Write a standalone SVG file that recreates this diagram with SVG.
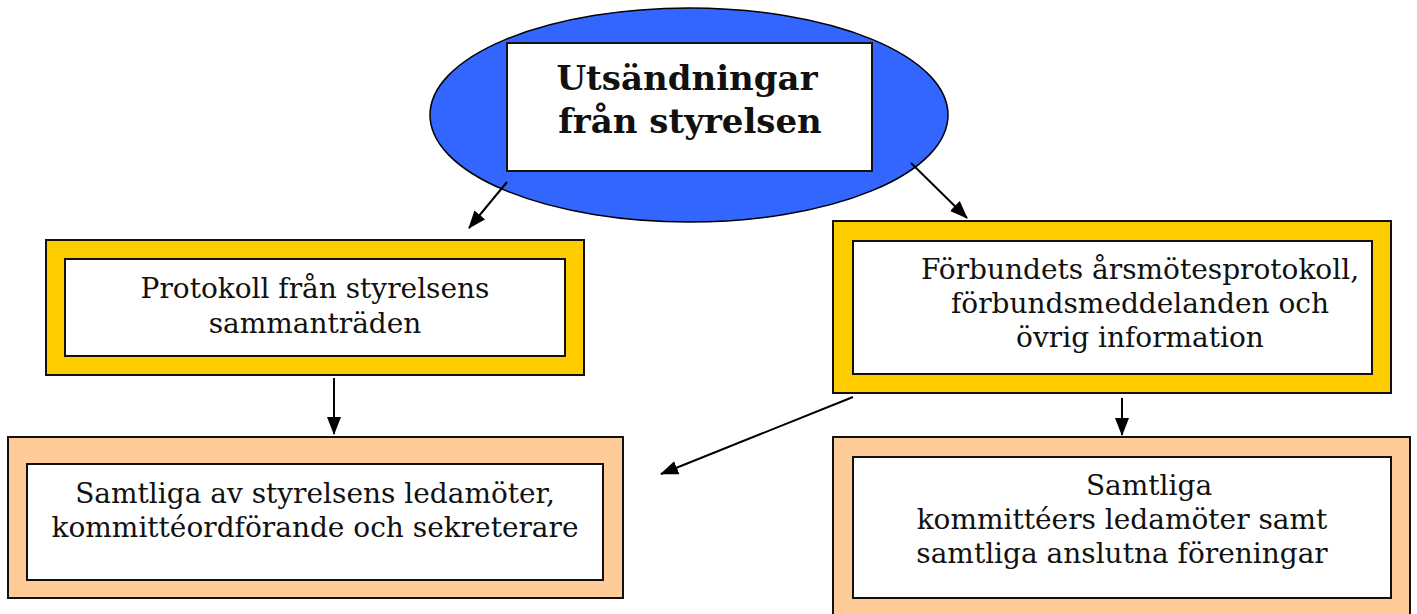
<svg xmlns="http://www.w3.org/2000/svg" width="1417" height="614" viewBox="0 0 1417 614">
<defs>
<marker id="ah" markerWidth="18" markerHeight="14" refX="17" refY="7" orient="auto" markerUnits="userSpaceOnUse">
<path d="M0,0 L18,7 L0,14 Z" fill="#000"/>
</marker>
<style>
.frame{stroke:#111;stroke-width:2}
.inner{fill:#fff;stroke:#111;stroke-width:2}
.yel{fill:#FFCC00}
.org{fill:#FFCC99}
.t{font-family:"DejaVu Serif","Liberation Serif",serif;font-size:28px;fill:#111}
.title{font-family:"DejaVu Serif","Liberation Serif",serif;font-size:34px;font-weight:bold;fill:#111;text-anchor:middle}
.c{text-anchor:middle}
.conn line{stroke:#000;stroke-width:2;marker-end:url(#ah)}
</style>
</defs>
<rect width="1417" height="614" fill="#fff"/>
<g id="n-top">
<ellipse cx="689" cy="115" rx="259" ry="107" fill="#3366FF" stroke="#000" stroke-width="1.5"/>
<rect class="inner" x="507" y="43" width="365" height="128"/>
<text class="title" x="687" y="90">Utsändningar</text>
<text class="title" x="690" y="133">från styrelsen</text>
</g>
<g id="n-protokoll">
<rect class="frame yel" x="46" y="240" width="538" height="135"/>
<rect class="inner" x="65" y="259" width="500" height="97"/>
<text class="t c" x="315" y="298">Protokoll från styrelsens</text>
<text class="t c" x="315" y="333">sammanträden</text>
</g>
<g id="n-forbund">
<rect class="frame yel" x="833" y="221" width="558" height="172"/>
<rect class="inner" x="853" y="241" width="519" height="133"/>
<text class="t c" x="1140" y="279">Förbundets årsmötesprotokoll,</text>
<text class="t c" x="1140" y="313">förbundsmeddelanden och</text>
<text class="t c" x="1140" y="347">övrig information</text>
</g>
<g id="n-styrelse">
<rect class="frame org" x="8" y="437" width="615" height="161"/>
<rect class="inner" x="27" y="464" width="576" height="116"/>
<text class="t c" x="315" y="503">Samtliga av styrelsens ledamöter,</text>
<text class="t c" x="315" y="537">kommittéordförande och sekreterare</text>
</g>
<g id="n-kommitte">
<rect class="frame org" x="833" y="437" width="577" height="180"/>
<rect class="inner" x="853" y="457" width="538" height="141"/>
<text class="t c" x="1149" y="495">Samtliga</text>
<text class="t c" x="1122" y="529">kommittéers ledamöter samt</text>
<text class="t c" x="1122" y="563">samtliga anslutna föreningar</text>
</g>
<g id="connectors" class="conn">
<line x1="507" y1="182" x2="469" y2="228"/>
<line x1="911" y1="163" x2="967" y2="218"/>
<line x1="334" y1="378" x2="334" y2="434"/>
<line x1="853" y1="397" x2="661" y2="474"/>
<line x1="1122" y1="398" x2="1122" y2="435"/>
</g>
</svg>
